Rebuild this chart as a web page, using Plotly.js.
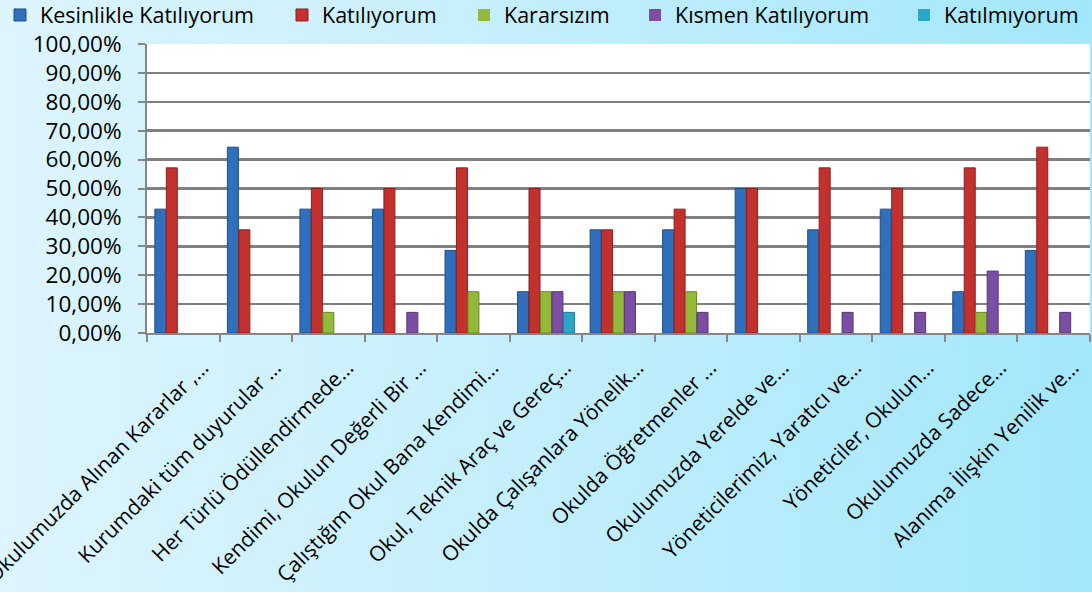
<!DOCTYPE html>
<html>
<head>
<meta charset="utf-8">
<script src="https://cdn.plot.ly/plotly-3.0.1.min.js"></script>
<style>
html,body{margin:0;padding:0;}
body{width:1092px;height:592px;background:linear-gradient(to right,#ddf5fd 0%,#c6effc 45%,#a3e7fb 100%);}
#chart{width:1092px;height:592px;}
</style>
</head>
<body>
<div id="chart"></div>
<script>
const categories = [
  "Okulumuzda Alınan Kararlar ,…",
  "Kurumdaki tüm duyurular …",
  "Her Türlü Ödüllendirmede…",
  "Kendimi, Okulun Değerli Bir …",
  "Çalıştığım Okul Bana Kendimi…",
  "Okul, Teknik Araç ve Gereç…",
  "Okulda Çalışanlara Yönelik…",
  "Okulda Öğretmenler …",
  "Okulumuzda Yerelde ve…",
  "Yöneticilerimiz, Yaratıcı ve…",
  "Yöneticiler, Okulun…",
  "Okulumuzda Sadece…",
  "Alanıma İlişkin Yenilik ve…"
];
const seriesNames = ["Kesinlikle Katılıyorum","Katılıyorum","Kararsızım","Kısmen Katılıyorum","Katılmıyorum"];
const kesinlikle = [0.4286,0.6429,0.4286,0.4286,0.2857,0.1429,0.3571,0.3571,0.5000,0.3571,0.4286,0.1429,0.2857];
const katiliyorum = [0.5714,0.3571,0.5000,0.5000,0.5714,0.5000,0.3571,0.4286,0.5000,0.5714,0.5000,0.5714,0.6429];
const kararsizim = [0,0,0.0714,0,0.1429,0.1429,0.1429,0.1429,0,0,0,0.0714,0];
const kismen = [0,0,0,0.0714,0,0.1429,0.1429,0.0714,0,0.0714,0.0714,0.2143,0.0714];
const katilmiyorum = [0,0,0,0,0,0.0714,0,0,0,0,0,0,0];
const yTickVals = [0,0.1,0.2,0.3,0.4,0.5,0.6,0.7,0.8,0.9,1.0];

const values = [kesinlikle,katiliyorum,kararsizim,kismen,katilmiyorum];
const colors = ["#2f6fbc","#c3312f","#93b93b","#7b4ea3","#2aa7c6"];
const lineColors = ["#1f4f8a","#8e1f1e","#6a8a24","#573577","#1b7c94"];
const legendIds = ["legend","legend2","legend3","legend4","legend5"];
const legendX = [-8, 282, 464, 635, 904];

const traces = values.map((v,i)=>({
  type:"bar",
  name:seriesNames[i],
  legend:legendIds[i],
  x:categories,
  y:v,
  marker:{color:colors[i],line:{color:lineColors[i],width:v.map(a=>a>0?1:0)}},
  hoverinfo:"x+y+name"
}));

const font = "Open Sans, Noto Sans, sans-serif";
const layout = {
  width:1092,height:592,
  paper_bgcolor:"rgba(0,0,0,0)",
  plot_bgcolor:"#ffffff",
  margin:{l:147,r:2,t:44,b:259,autoexpand:false},
  barmode:"group",
  bargap:0.21,
  bargroupgap:0.04,
  separators:",.",
  font:{family:font,size:20,color:"#000"},
  showlegend:true,
  xaxis:{
    type:"category",
    tickangle:-45,
    tickson:"boundaries",
    ticks:"outside",ticklen:7,tickcolor:"#868686",tickwidth:2,
    showline:true,linecolor:"#868686",linewidth:2,
    showgrid:false,
    tickfont:{family:font,size:21,color:"#000"},
    ticklabelstandoff:12,
    ticklabelshift:19,
    automargin:false,
    fixedrange:true
  },
  yaxis:{
    range:[0,1.0],
    tickvals:yTickVals,
    tickformat:".2%",
    ticks:"outside",ticklen:7,tickcolor:"#868686",tickwidth:2,
    showline:true,linecolor:"#868686",linewidth:2,
    showgrid:true,gridcolor:"#808080",gridwidth:2.5,
    zeroline:false,
    tickfont:{family:font,size:22.5,color:"#000"},
    ticklabelstandoff:12,
    automargin:false,
    fixedrange:true
  }
};
legendIds.forEach((id,i)=>{
  layout[id] = {orientation:"h",xref:"container",yref:"container",x:legendX[i]/1092,y:1-15/592,xanchor:"left",yanchor:"middle",
    font:{family:font,size:21.5,color:"#000"},itemwidth:30,bgcolor:"rgba(0,0,0,0)",borderwidth:0};
});
Plotly.newPlot("chart",traces,layout,{displayModeBar:false,staticPlot:true});
</script>
</body>
</html>
